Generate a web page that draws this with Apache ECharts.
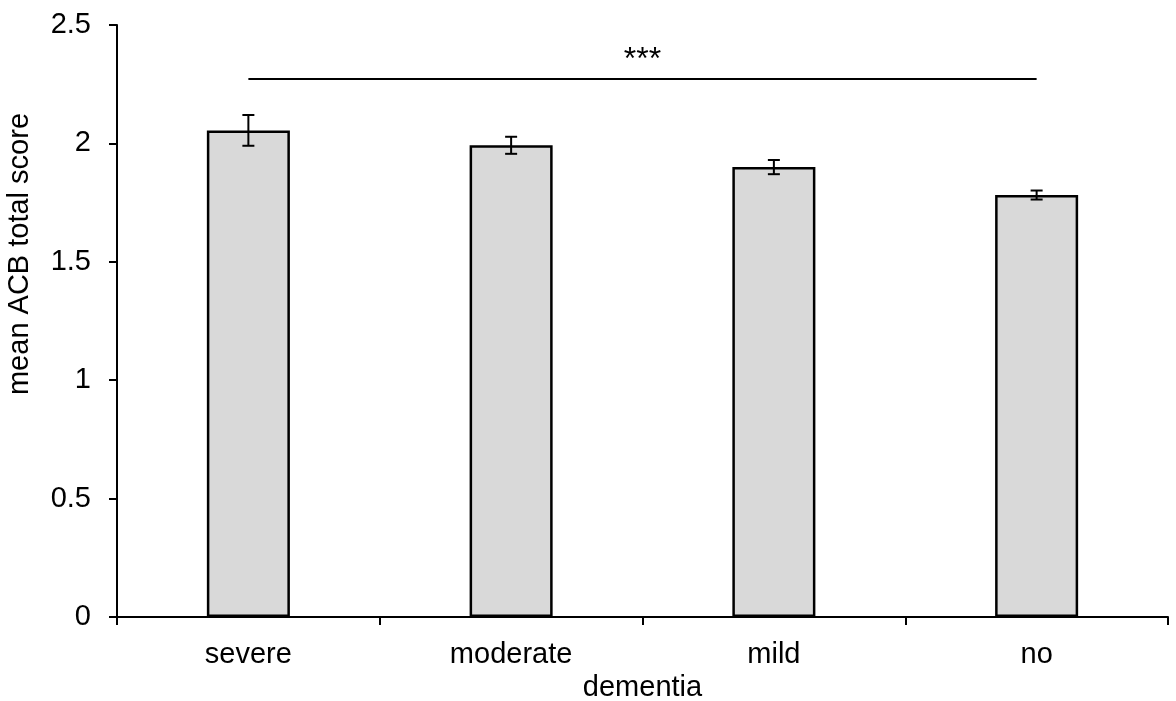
<!DOCTYPE html>
<html>
<head>
<meta charset="utf-8">
<script src="https://cdn.jsdelivr.net/npm/echarts@6/dist/echarts.min.js"></script>
<style>
html,body{margin:0;padding:0;background:#fff;}
#chart{width:1176px;height:701px;}
</style>
</head>
<body>
<div id="chart"></div>
<script>
const categories = ['severe', 'moderate', 'mild', 'no'];
const meanScores = [2.055, 1.992, 1.900, 1.782];
const errorSizes = [0.065, 0.036, 0.030, 0.019];
const yTicks = [0, 0.5, 1, 1.5, 2, 2.5];
const sigLevel = 2.275;
const sigLabel = '***';

const FONT = '"Liberation Sans", Arial, sans-serif';
const errData = categories.map((c, i) => [i, meanScores[i] - errorSizes[i], meanScores[i] + errorSizes[i]]);

const chart = echarts.init(document.getElementById('chart'));
chart.setOption({
  animation: false,
  backgroundColor: '#fff',
  grid: { left: 117, right: 8, top: 25, bottom: 84, outerBoundsMode: 'none', containLabel: false },
  xAxis: {
    type: 'category',
    data: categories,
    name: 'dementia',
    nameLocation: 'middle',
    nameGap: 56,
    nameTextStyle: { fontFamily: FONT, fontSize: 29, color: '#000' },
    axisLine: { show: true, lineStyle: { color: '#000', width: 2 } },
    axisTick: { show: true, length: 8, lineStyle: { color: '#000', width: 2 } },
    axisLabel: { fontFamily: FONT, fontSize: 29, color: '#000', margin: 23 },
    splitLine: { show: false }
  },
  yAxis: {
    type: 'value',
    min: yTicks[0],
    max: yTicks[yTicks.length - 1],
    interval: 0.5,
    name: 'mean ACB total score',
    nameLocation: 'middle',
    nameGap: 83,
    nameTextStyle: { fontFamily: FONT, fontSize: 29, color: '#000', padding: [0, 0, 0, 134] },
    axisLine: { show: true, lineStyle: { color: '#000', width: 2 } },
    axisTick: { show: true, length: 8, lineStyle: { color: '#000', width: 2 } },
    axisLabel: { fontFamily: FONT, fontSize: 29, color: '#000', margin: 26 },
    splitLine: { show: false }
  },
  series: [
    {
      type: 'bar',
      data: meanScores,
      barWidth: '31.6%',
      itemStyle: { color: '#d9d9d9', borderColor: '#000', borderWidth: 2.5 },
      markLine: {
        silent: true,
        symbol: ['none', 'none'],
        lineStyle: { color: '#000', width: 2, type: 'solid' },
        label: {
          show: true,
          position: 'insideMiddleTop',
          formatter: sigLabel,
          fontFamily: FONT,
          fontSize: 32,
          color: '#000',
          distance: 2
        },
        data: [[
          { coord: [categories[0], sigLevel] },
          { coord: [categories[categories.length - 1], sigLevel] }
        ]]
      }
    },
    {
      type: 'custom',
      data: errData,
      z: 10,
      renderItem: function (params, api) {
        const x = api.value(0);
        const lo = api.coord([x, api.value(1)]);
        const hi = api.coord([x, api.value(2)]);
        const hw = 6;
        const style = { stroke: '#000', lineWidth: 2 };
        return {
          type: 'group',
          children: [
            { type: 'line', shape: { x1: lo[0], y1: lo[1], x2: hi[0], y2: hi[1] }, style: style },
            { type: 'line', shape: { x1: lo[0] - hw, y1: lo[1], x2: lo[0] + hw, y2: lo[1] }, style: style },
            { type: 'line', shape: { x1: hi[0] - hw, y1: hi[1], x2: hi[0] + hw, y2: hi[1] }, style: style }
          ]
        };
      }
    }
  ]
});
</script>
</body>
</html>
